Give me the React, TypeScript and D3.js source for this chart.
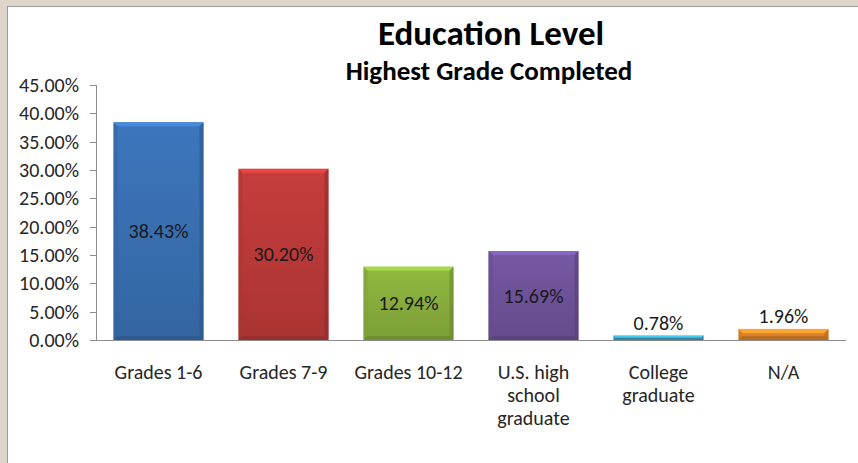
import React from "react";
import * as d3 from "d3";

const categories = ["Grades 1-6", "Grades 7-9", "Grades 10-12", "U.S. high school graduate", "College graduate", "N/A"];
const categoryLines = [["Grades 1-6"], ["Grades 7-9"], ["Grades 10-12"], ["U.S. high", "school", "graduate"], ["College", "graduate"], ["N/A"]];
const values = [38.43, 30.2, 12.94, 15.69, 0.78, 1.96];
const colors = ["#3B72B6", "#BF3B3A", "#8CB33E", "#72559E", "#3FA8C8", "#E8892B"];
const yTicks = [0, 5, 10, 15, 20, 25, 30, 35, 40, 45];
const title = "Education Level";
const subtitle = "Highest Grade Completed";

const W = 858, H = 463;
const plotLeft = 96, plotRight = 846, plotTop = 85, plotBottom = 340;
const font = "Carlito, Calibri, 'Open Sans', sans-serif";

export default function App() {
  const x = d3.scaleBand<string>().domain(categories).range([plotLeft, plotRight]).paddingInner(0.28).paddingOuter(0.14);
  const y = d3.scaleLinear().domain([0, 45]).range([plotBottom, plotTop]);
  const bw = x.bandwidth();
  const bv = 4;
  return (
    <svg width={W} height={H} style={{ position: "absolute", left: 0, top: 0, background: "#fff" }}>
      <defs>
        {colors.map((c, i) => {
          const cc = d3.color(c)!;
          return (
            <linearGradient key={i} id={`g${i}`} x1="0" y1="0" x2="0" y2="1">
              <stop offset="0" stopColor={d3.color(c)!.brighter(0.1).formatHex()} />
              <stop offset="1" stopColor={cc.darker(0.35).formatHex()} />
            </linearGradient>
          );
        })}
      </defs>
      <rect x={0} y={0} width={W} height={H} fill="#fff" />
      <rect x={0} y={0} width={W} height={6} fill="#DDD6C8" />
      <rect x={0} y={0} width={7} height={H} fill="#DDD6C8" />
      <line x1={7} x2={W} y1={6.5} y2={6.5} stroke="#9a9a9a" strokeWidth={1} />
      <line x1={7.5} x2={7.5} y1={6} y2={H} stroke="#9a9a9a" strokeWidth={1} />
      <text x={491} y={45} textAnchor="middle" fontFamily={font} fontWeight="bold" fontSize={35} fill="#000">{title}</text>
      <text x={489} y={80} textAnchor="middle" fontFamily={font} fontWeight="bold" fontSize={27} fill="#000">{subtitle}</text>
      {/* y axis */}
      <line x1={plotLeft + 0.5} x2={plotLeft + 0.5} y1={plotTop} y2={plotBottom} stroke="#8c8c8c" />
      {yTicks.map((t) => (
        <g key={t}>
          <line x1={plotLeft - 6} x2={plotLeft} y1={Math.round(y(t)) + 0.5} y2={Math.round(y(t)) + 0.5} stroke="#8c8c8c" />
          <text x={79} y={y(t) + 7} textAnchor="end" fontFamily={font} fontSize={20} fill="#262626">{t.toFixed(2)}%</text>
        </g>
      ))}
      {/* bars */}
      {categories.map((c, i) => {
        const x0 = x(c)!;
        const y0 = y(values[i]);
        const h = plotBottom - y0;
        const b = Math.min(bv, h / 2);
        const base = d3.color(colors[i])!;
        const light = base.brighter(0.6).formatHex();
        const dark = base.darker(0.8).formatHex();
        const mid = base.darker(0.3).formatHex();
        return (
          <g key={c}>
            <rect x={x0} y={y0} width={bw} height={h} fill={`url(#g${i})`} />
            <polygon points={`${x0},${y0} ${x0 + bw},${y0} ${x0 + bw - b},${y0 + b} ${x0 + b},${y0 + b}`} fill={light} opacity={0.85} />
            <polygon points={`${x0},${y0} ${x0 + b},${y0 + b} ${x0 + b},${plotBottom - b} ${x0},${plotBottom}`} fill={mid} opacity={0.6} />
            <polygon points={`${x0 + bw},${y0} ${x0 + bw - b},${y0 + b} ${x0 + bw - b},${plotBottom - b} ${x0 + bw},${plotBottom}`} fill={dark} opacity={0.6} />
            <polygon points={`${x0},${plotBottom} ${x0 + b},${plotBottom - b} ${x0 + bw - b},${plotBottom - b} ${x0 + bw},${plotBottom}`} fill={dark} opacity={0.7} />
            <text
              x={x0 + bw / 2}
              y={h > 30 ? (y0 + plotBottom) / 2 + 7 : y0 - 6}
              textAnchor="middle" fontFamily={font} fontSize={20} fill="#1a1a1a"
            >{values[i].toFixed(2)}%</text>
          </g>
        );
      })}
      <line x1={plotLeft} x2={plotRight} y1={plotBottom + 0.5} y2={plotBottom + 0.5} stroke="#8c8c8c" />
      {categoryLines.map((lines, i) => (
        <text key={i} textAnchor="middle" fontFamily={font} fontSize={20} fill="#262626">
          {lines.map((l, j) => (
            <tspan key={j} x={x(categories[i])! + bw / 2} y={379 + j * 23}>{l}</tspan>
          ))}
        </text>
      ))}
    </svg>
  );
}
